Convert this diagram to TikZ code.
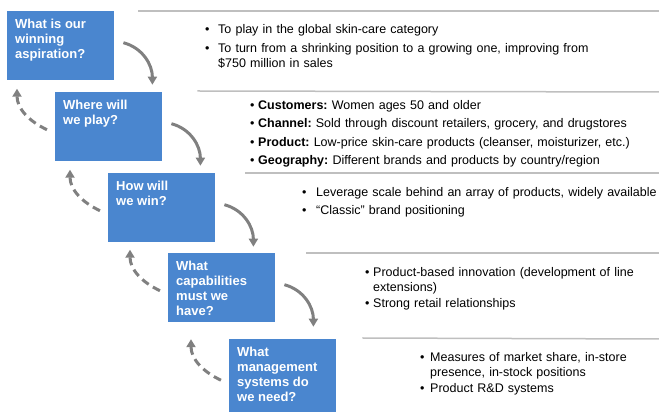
\documentclass[tikz,border=0pt]{standalone}
\usepackage{fontspec}
\setmainfont{Liberation Sans}
\usetikzlibrary{arrows.meta,calc}
\definecolor{qblue}{RGB}{74,134,207}
\definecolor{qgray}{RGB}{128,128,128}
\definecolor{qrule}{RGB}{191,191,191}
\tikzset{
    qbox/.style={
        fill=qblue,text=white,anchor=north west,inner sep=8pt,
        font=\bfseries\fontsize{13}{15}\selectfont
    },
    answers/.style={
        anchor=north west,inner sep=0pt,text width=440pt,align=left,
        font=\fontsize{12.5}{15.5}\selectfont,
        execute at begin node={\setlength{\parskip}{3pt}\frenchspacing}
    },
    flow/.style={
        -{Triangle[width=9pt,length=8pt]},line width=3pt,draw=qgray
    },
    back/.style={flow,dash pattern=on 8pt off 5pt},
    divider/.style={draw=qrule,line width=1.5pt}
}
% question text sits at the top of its box
\newcommand{\qtext}[2][53pt]{\parbox[t][#1][t]{91pt}{\raggedright #2}}
% bullet, with wrapped lines kept under the text
\newcommand{\bitem}[2]{\par\noindent\makebox[#1][l]{\textbullet}\parbox[t]{400pt}{\frenchspacing #2}}

\begin{document}
\begin{tikzpicture}[x=1pt,y=1pt]
\useasboundingbox (0,0) rectangle (659,412);
\coordinate (edge) at (659,0);

% the five questions, stepping down
\node[qbox] (q1) at (7,401) {\qtext{What is our\\winning\\aspiration?}};
\node[qbox] (q2) at (55,320) {\qtext{Where will\\we play?}};
\node[qbox] (q3) at (108,239) {\qtext{How will\\we win?}};
\node[qbox] (q4) at (168,159) {\qtext{What\\capabilities\\must we\\have?}};
\node[qbox] (q5) at (229,73) {\qtext[60pt]{What\\management\\systems do\\we need?}};

% rules over each answer group
\draw[divider] ($(q1.north east)+(24,0)$) -- (q1.north east -| edge);
\draw[divider] ($(q2.north east)+(35,1)$) -- (q2.north east -| edge);
\draw[divider] ($(q3.north east)+(30,0)$) -- (q3.north east -| edge);
\draw[divider] ($(q4.north east)+(31,0)$) -- (q4.north east -| edge);
\draw[divider] ($(q5.north east)+(26,1)$) -- (q5.north east -| edge);

% answers
\node[answers] (a1) at (205,397) {%
\bitem{13pt}{To play in the global skin-care category}
\bitem{13pt}{To turn from a shrinking position to a growing one, improving from\\\$750 million in sales}};
\node[answers] (a2) at (250,321.5) {%
\bitem{8pt}{\textbf{Customers:} Women ages 50 and older}
\bitem{8pt}{\textbf{Channel:} Sold through discount retailers, grocery, and drugstores}
\bitem{8pt}{\textbf{Product:} Low-price skin-care products (cleanser, moisturizer, etc.)}
\bitem{8pt}{\textbf{Geography:} Different brands and products by country/region}};
\node[answers] (a3) at (302,234.5) {%
\bitem{14pt}{Leverage scale behind an array of products, widely available}
\bitem{14pt}{“Classic” brand positioning}};
\node[answers] (a4) at (365,154.5) {%
\bitem{8pt}{Product-based innovation (development of line\\extensions)}
\bitem{8pt}{Strong retail relationships}};
\node[answers] (a5) at (420,69.5) {%
\bitem{10pt}{Measures of market share, in-store\\presence, in-stock positions}
\bitem{10pt}{Product R\&D systems}};

% forward steps and feedback loops
\foreach \q in {q1,q2,q3,q4}
    \draw[flow] ($(\q.east)+(9,3)$) to[out=-15,in=90] ($(\q.east)+(38,-39)$);
\foreach \q in {q2,q3,q4,q5}
    \draw[back] ($(\q.west)+(-8,-3)$) to[out=155,in=-90] ($(\q.west)+(-38,38)$);

\end{tikzpicture}
\end{document}
